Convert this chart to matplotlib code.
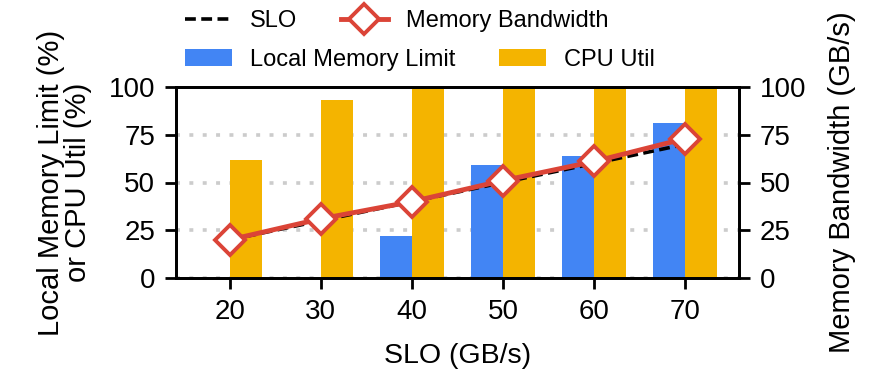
import numpy as np
import matplotlib
matplotlib.use("Agg")
from matplotlib import pyplot as plt

# data
slo = [20, 30, 40, 50, 60, 70]
local_mem_limit = [0, 0, 22, 59, 64, 81]
cpu_util = [62, 93, 100, 100, 100, 100]
mem_bandwidth = [20, 31, 40, 51, 61, 73]

BLUE = "#4285F4"
ORANGE = "#F4B400"
RED = "#DB4437"

plt.rcParams["font.family"] = ["Liberation Sans", "DejaVu Sans"]

W, H = 886, 380
fig = plt.figure(figsize=(W / 100, H / 100), dpi=100)
ax = fig.add_axes([176 / W, 1 - 278 / H, (739 - 176) / W, (278 - 87) / H])
ax2 = ax.twinx()

x = np.arange(len(slo))
width = 0.35

ax.set_axisbelow(True)
ax.yaxis.grid(True, linestyle=(0, (1.1, 2.6)), color="#cccccc", linewidth=2.6)
b1 = ax.bar(x - width / 2, local_mem_limit, width, color=BLUE, label="Local Memory Limit", zorder=2)
b2 = ax.bar(x + width / 2, cpu_util, width, color=ORANGE, label="CPU Util", zorder=2)

l1, = ax2.plot(x, slo, color="black", linestyle=(0, (3, 1.5)), linewidth=2.6, label="SLO", zorder=3)
l2, = ax2.plot(x, mem_bandwidth, color=RED, linewidth=3.5, marker="D", markersize=15,
               markerfacecolor="white", markeredgecolor=RED, markeredgewidth=2.8,
               label="Memory Bandwidth", zorder=4)

for a in (ax, ax2):
    a.set_ylim(0, 100)
    a.set_yticks([0, 25, 50, 75, 100])
    a.tick_params(axis="both", labelsize=20, length=8, width=2, pad=7, color="black")
    for s in a.spines.values():
        s.set_linewidth(2)
ax.set_xlim(-0.59, len(slo) - 1 + 0.59)
ax.set_xticks(x)
ax.set_xticklabels([str(v) for v in slo])

ax.set_xlabel("SLO (GB/s)", fontsize=20.5)
ax.xaxis.set_label_coords(0.5, -0.34)
ax.set_ylabel("Local Memory Limit (%)\nor CPU Util (%)", fontsize=21, linespacing=0.98)
ax.yaxis.set_label_coords(-0.149, 0.5)
ax2.set_ylabel("Memory Bandwidth (GB/s)", fontsize=21)
ax2.yaxis.set_label_coords(1.158, 0.5)

# legend is two independent rows in the reference
leg_kw = dict(ncol=2, loc="upper left", frameon=False, fontsize=17,
              borderpad=0, borderaxespad=0, handlelength=2.0, handletextpad=0.75,
              columnspacing=1.85)
fig.legend(handles=[l1, l2], bbox_to_anchor=(185 / W, 1 - 10 / H), **leg_kw)
fig.legend(handles=[b1, b2], bbox_to_anchor=(185 / W, 1 - 49 / H), **leg_kw)

fig.savefig("out.png", dpi=100)
